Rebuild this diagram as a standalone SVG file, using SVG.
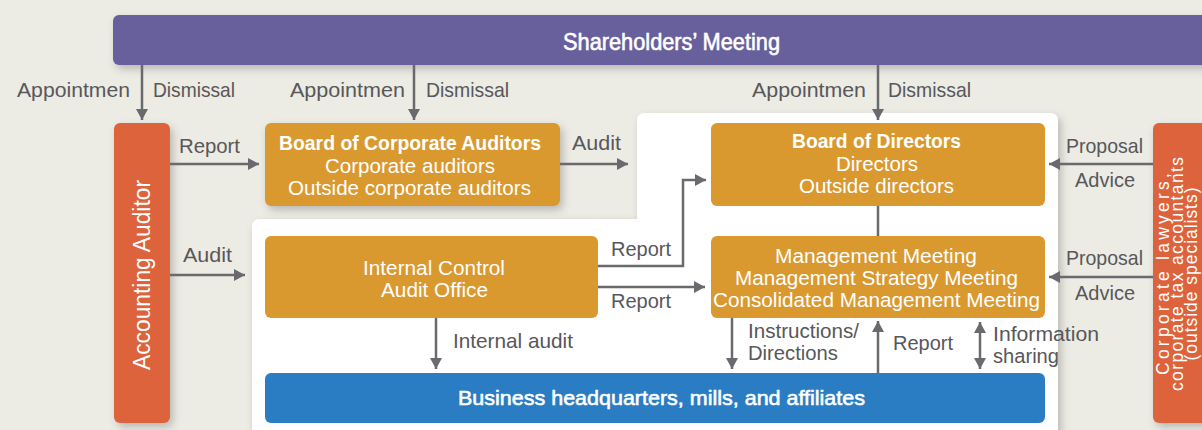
<svg xmlns="http://www.w3.org/2000/svg" width="1202" height="430" viewBox="0 0 1202 430">
  <defs>
    <style>
      text { font-family: "Liberation Sans", Arial, sans-serif; }
      .lbl { font-size: 21px; fill: #58575a; }
      .sm { font-size: 20px; }
      .box { font-size: 20.5px; fill: #ffffff; }
      .boxb { font-size: 20px; font-weight: bold; fill: #ffffff; }
      .med { stroke: #ffffff; stroke-width: 0.6px; }
      .gold { fill: #d9992f; }
      .red { fill: #dd643c; }
      .conn { fill: none; stroke: #6a696e; stroke-width: 2.5; }
      .arr { marker-end: url(#ah); }
    </style>
    <marker id="ah" markerUnits="userSpaceOnUse" markerWidth="12" markerHeight="12" refX="11" refY="6" orient="auto-start-reverse">
      <path d="M0,0 L11,6 L0,12 Z" fill="#6a696e"/>
    </marker>
    <filter id="sh" x="-10%" y="-10%" width="130%" height="140%">
      <feDropShadow dx="3" dy="4" stdDeviation="4" flood-color="#000" flood-opacity="0.22"/>
    </filter>
  </defs>

  <rect x="0" y="0" width="1202" height="430" fill="#ecebe4"/>

  <g id="panel">
    <path d="M252,227 Q252,219 260,219 L637,219 L637,121 Q637,113 645,113 L1050,113 Q1058,113 1058,121 L1058,445 L252,445 Z" fill="#ffffff" filter="url(#sh)"/>
  </g>

  <g id="shareholders">
    <rect x="113" y="15" width="1110" height="50" rx="6" fill="#67609c" filter="url(#sh)"/>
    <text x="563" y="50" class="med" font-size="24" fill="#ffffff" textLength="217" lengthAdjust="spacingAndGlyphs">Shareholders’ Meeting</text>
  </g>

  <g id="accounting-auditor">
    <rect x="114" y="123" width="56" height="300" rx="6" class="red" filter="url(#sh)"/>
    <text transform="translate(150,275) rotate(-90)" text-anchor="middle" font-size="23" fill="#ffffff" textLength="190" lengthAdjust="spacingAndGlyphs">Accounting Auditor</text>
  </g>

  <g id="specialists">
    <rect x="1153" y="123" width="70" height="300" rx="6" class="red" filter="url(#sh)"/>
    <g transform="translate(1169,274) rotate(-90)" font-size="17.5" fill="#ffffff" text-anchor="middle">
      <text x="0" y="0" textLength="202">Corporate lawyers,</text>
      <text x="0" y="14" textLength="234">corporate tax accountants</text>
      <text x="0" y="28" textLength="173">(outside specialists)</text>
    </g>
  </g>

  <g id="board-corporate-auditors">
    <rect x="265" y="123" width="295" height="83" rx="6" class="gold" filter="url(#sh)"/>
    <text x="279" y="150" class="boxb" textLength="262" lengthAdjust="spacingAndGlyphs">Board of Corporate Auditors</text>
    <text x="325" y="173" class="box" textLength="170" lengthAdjust="spacingAndGlyphs">Corporate auditors</text>
    <text x="288" y="195" class="box" textLength="243" lengthAdjust="spacingAndGlyphs">Outside corporate auditors</text>
  </g>

  <g id="board-directors">
    <rect x="711" y="123" width="334" height="83" rx="6" class="gold"/>
    <text x="792" y="148" class="boxb" textLength="169" lengthAdjust="spacingAndGlyphs">Board of Directors</text>
    <text x="836" y="171" class="box" textLength="82" lengthAdjust="spacingAndGlyphs">Directors</text>
    <text x="799" y="193" class="box" textLength="155" lengthAdjust="spacingAndGlyphs">Outside directors</text>
  </g>

  <g id="internal-control">
    <rect x="265" y="236" width="333" height="82" rx="6" class="gold"/>
    <text x="363" y="275" class="box" textLength="142" lengthAdjust="spacingAndGlyphs">Internal Control</text>
    <text x="381" y="297" class="box" textLength="107" lengthAdjust="spacingAndGlyphs">Audit Office</text>
  </g>

  <g id="management">
    <rect x="711" y="236" width="334" height="82" rx="6" class="gold"/>
    <text x="775" y="263" class="box" textLength="202" lengthAdjust="spacingAndGlyphs">Management Meeting</text>
    <text x="735" y="285" class="box" textLength="283" lengthAdjust="spacingAndGlyphs">Management Strategy Meeting</text>
    <text x="713" y="307" class="box" textLength="327" lengthAdjust="spacingAndGlyphs">Consolidated Management Meeting</text>
  </g>

  <g id="business">
    <rect x="265" y="373" width="780" height="50" rx="6" fill="#2a7dc2"/>
    <text x="458" y="405" class="med" font-size="21" fill="#ffffff" stroke-width="0.8" textLength="407" lengthAdjust="spacingAndGlyphs">Business headquarters, mills, and affiliates</text>
  </g>

  <g id="connectors">
    <path class="conn arr" d="M142,65 V120"/>
    <path class="conn arr" d="M414,65 V120"/>
    <path class="conn arr" d="M878,65 V120"/>
    <path class="conn arr" d="M170,164 H259"/>
    <path class="conn arr" d="M560,164 H628"/>
    <path class="conn arr" d="M170,275 H245"/>
    <path class="conn arr" d="M598,266 H683 V180 H706"/>
    <path class="conn arr" d="M598,287 H705"/>
    <path class="conn" d="M878,206 V236"/>
    <path class="conn arr" d="M436,318 V369"/>
    <path class="conn arr" d="M732,318 V369"/>
    <path class="conn arr" d="M878,373 V321"/>
    <path class="conn arr" d="M980,322 V369" marker-start="url(#ah)"/>
    <path class="conn arr" d="M1153,164 H1049"/>
    <path class="conn arr" d="M1153,277 H1049"/>
  </g>

  <g id="labels" class="lbl">
    <text x="17" y="97" textLength="113" lengthAdjust="spacingAndGlyphs">Appointmen</text>
    <text x="153" y="97" textLength="82" lengthAdjust="spacingAndGlyphs">Dismissal</text>
    <text x="290" y="97" textLength="115" lengthAdjust="spacingAndGlyphs">Appointmen</text>
    <text x="426" y="97" textLength="83" lengthAdjust="spacingAndGlyphs">Dismissal</text>
    <text x="752" y="97" textLength="114" lengthAdjust="spacingAndGlyphs">Appointmen</text>
    <text x="888" y="97" textLength="83" lengthAdjust="spacingAndGlyphs">Dismissal</text>
    <text x="179" y="153" textLength="61" lengthAdjust="spacingAndGlyphs">Report</text>
    <text x="572" y="150" textLength="49" lengthAdjust="spacingAndGlyphs">Audit</text>
    <text x="183" y="262" textLength="49" lengthAdjust="spacingAndGlyphs">Audit</text>
    <text x="611" y="256" textLength="60" lengthAdjust="spacingAndGlyphs">Report</text>
    <text x="611" y="308" textLength="60" lengthAdjust="spacingAndGlyphs">Report</text>
    <text x="453" y="348" textLength="120" lengthAdjust="spacingAndGlyphs">Internal audit</text>
    <text x="748" y="338" class="sm" textLength="111" lengthAdjust="spacingAndGlyphs">Instructions/</text>
    <text x="748" y="360" class="sm" textLength="90" lengthAdjust="spacingAndGlyphs">Directions</text>
    <text x="893" y="350" textLength="60" lengthAdjust="spacingAndGlyphs">Report</text>
    <text x="993" y="341" class="sm" textLength="106" lengthAdjust="spacingAndGlyphs">Information</text>
    <text x="993" y="363" class="sm" textLength="66" lengthAdjust="spacingAndGlyphs">sharing</text>
    <text x="1066" y="153" textLength="77" lengthAdjust="spacingAndGlyphs">Proposal</text>
    <text x="1075" y="187" textLength="60" lengthAdjust="spacingAndGlyphs">Advice</text>
    <text x="1066" y="265" textLength="77" lengthAdjust="spacingAndGlyphs">Proposal</text>
    <text x="1075" y="300" textLength="60" lengthAdjust="spacingAndGlyphs">Advice</text>
  </g>
</svg>
